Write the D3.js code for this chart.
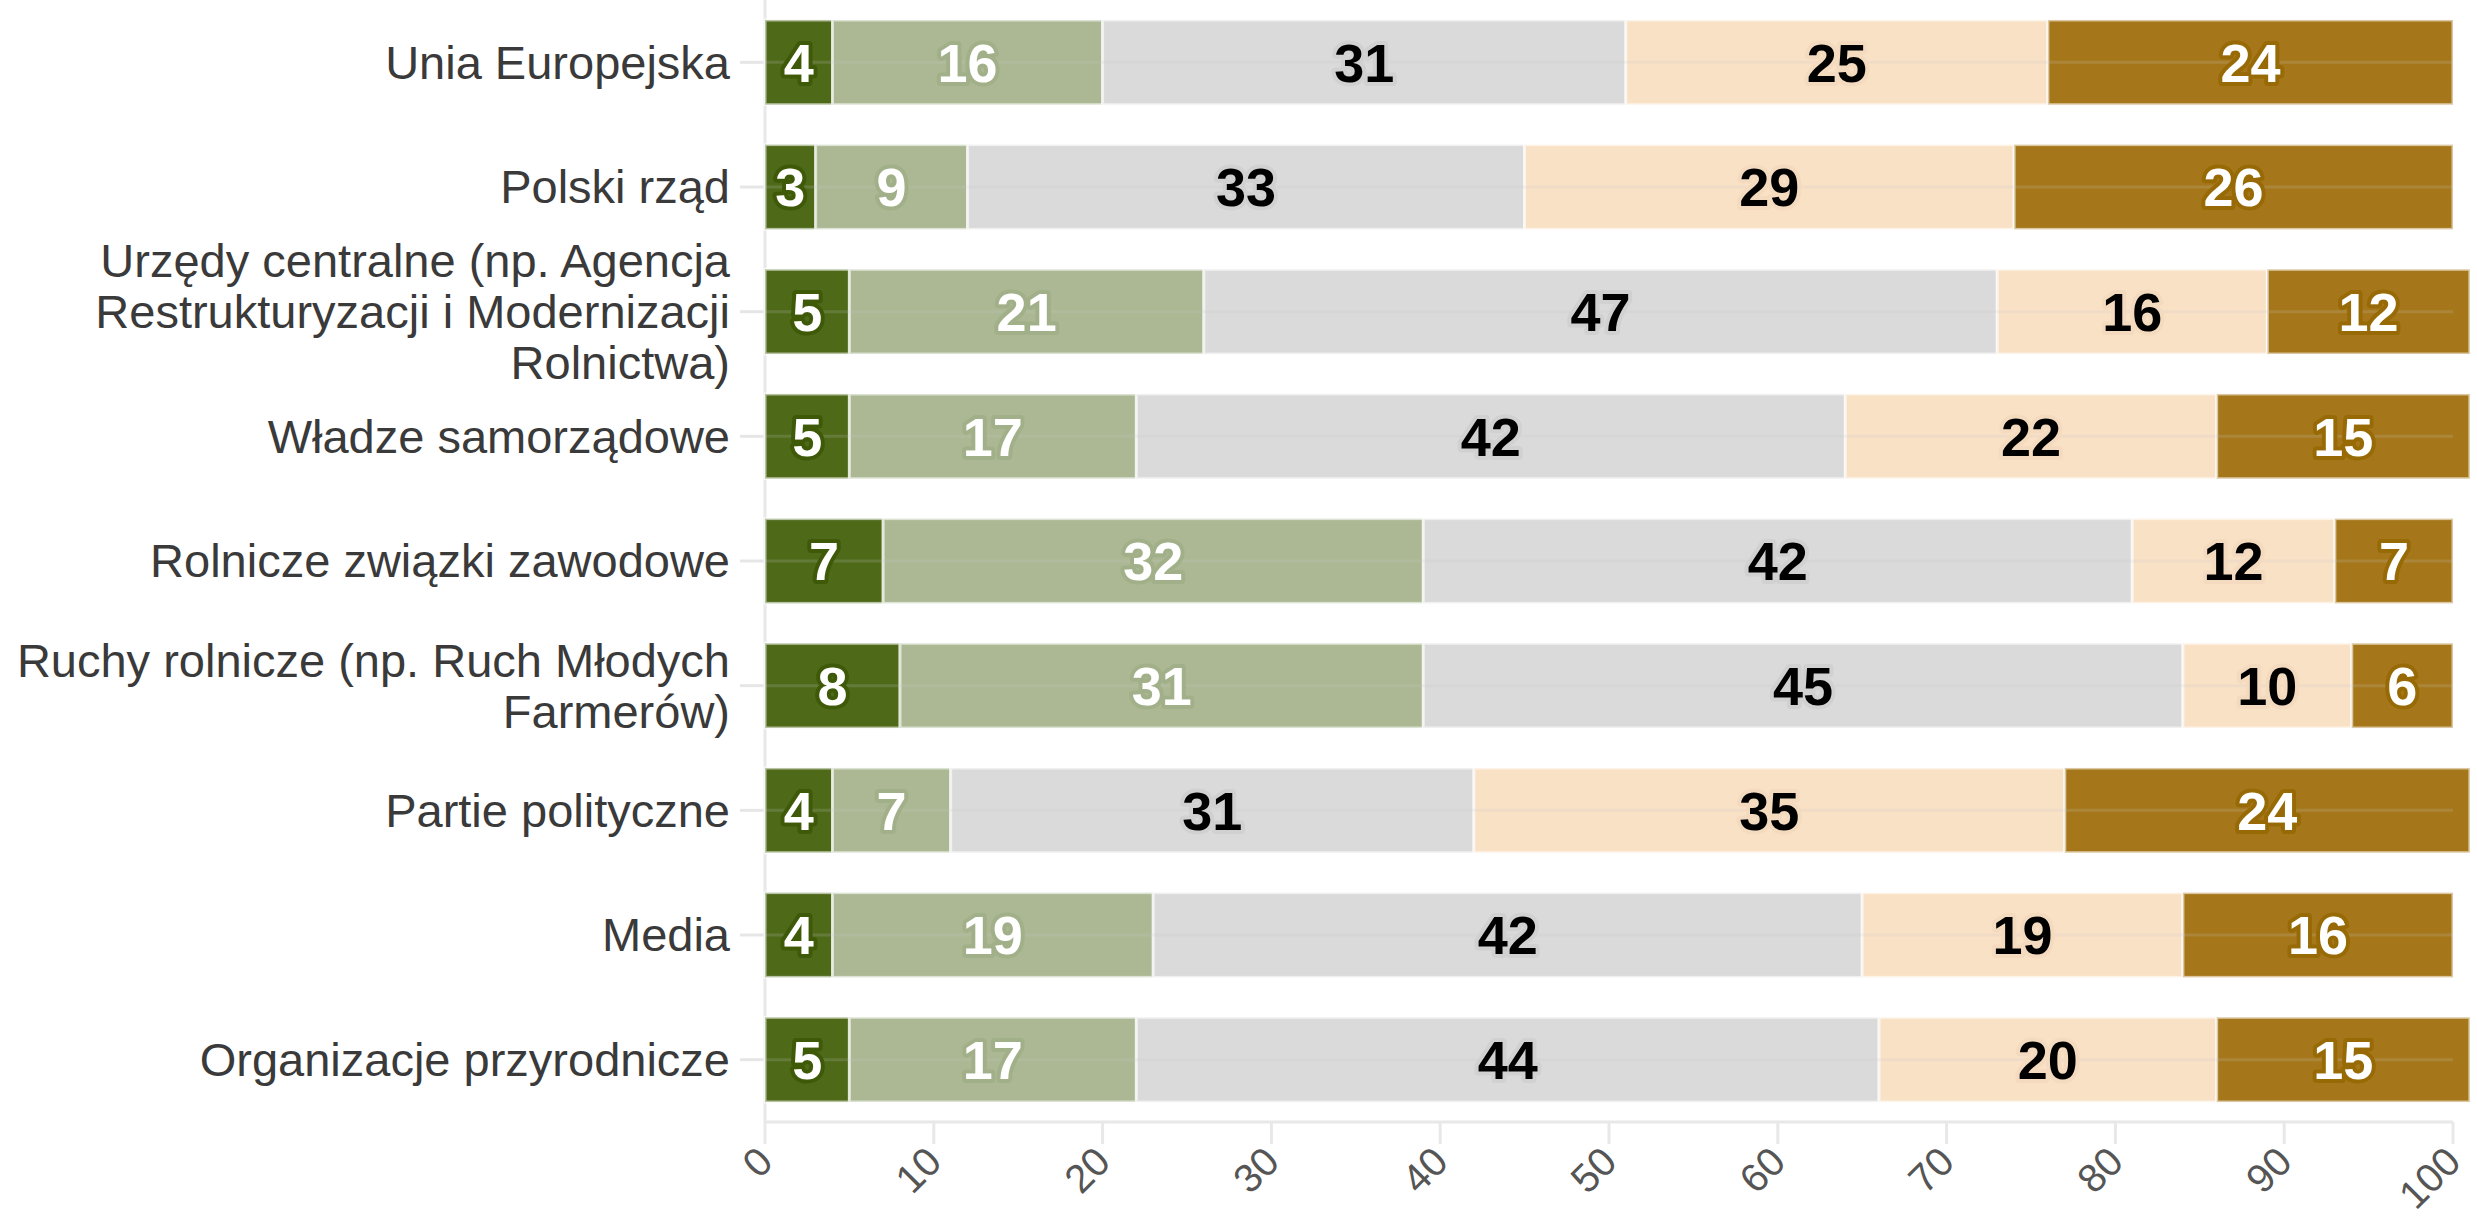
<!DOCTYPE html>
<html>
<head>
<meta charset="utf-8">
<script src="https://cdn.jsdelivr.net/npm/d3@7"></script>
<style>
  html, body { margin: 0; padding: 0; background: #ffffff; }
  svg { display: block; }
</style>
</head>
<body>
<svg id="chart" width="2477" height="1222"></svg>
<script>
// Categories (multi-line labels split with "\n")
const categories = [
  "Unia Europejska",
  "Polski rząd",
  "Urzędy centralne (np. Agencja\nRestrukturyzacji i Modernizacji\nRolnictwa)",
  "Władze samorządowe",
  "Rolnicze związki zawodowe",
  "Ruchy rolnicze (np. Ruch Młodych\nFarmerów)",
  "Partie polityczne",
  "Media",
  "Organizacje przyrodnicze"
];

// Answer shares (%) per category, from the first to the last answer level
const level1 = [4, 3, 5, 5, 7, 8, 4, 4, 5];
const level2 = [16, 9, 21, 17, 32, 31, 7, 19, 17];
const level3 = [31, 33, 47, 42, 42, 45, 31, 42, 44];
const level4 = [25, 29, 16, 22, 12, 10, 35, 19, 20];
const level5 = [24, 26, 12, 15, 7, 6, 24, 16, 15];

const xTickValues = [0, 10, 20, 30, 40, 50, 60, 70, 80, 90, 100];

// Styling
const levelKeys = ["level1", "level2", "level3", "level4", "level5"];
const fills = ["#4e6a19", "#abb893", "#dadada", "#f9e1c6", "#a5771a"];
const halos = ["#3e5908", "#a2b089", "#d1d1d1", "#f4dbbf", "#986a06"];
const textColors = ["#ffffff", "#ffffff", "#000000", "#000000", "#ffffff"];

const rows = categories.map((c, i) => ({
  category: c,
  level1: level1[i], level2: level2[i], level3: level3[i],
  level4: level4[i], level5: level5[i]
}));

const svg = d3.select("#chart");
const plot = { left: 765, right: 2453, top: 0, bottom: 1122 };

const x = d3.scaleLinear().domain([0, 100]).range([plot.left, plot.right]);
const y = d3.scaleBand()
  .domain(categories)
  .range([plot.top, plot.bottom])
  .paddingInner(0.32)
  .paddingOuter(0.16);

const stacked = d3.stack().keys(levelKeys)(rows);

// Vertical baseline at zero
svg.append("line")
  .attr("x1", x(0)).attr("x2", x(0))
  .attr("y1", plot.top).attr("y2", plot.bottom)
  .attr("stroke", "#e8e8e8").attr("stroke-width", 3);

// Row guide lines (extend left as category ticks)
svg.append("g").selectAll("line")
  .data(categories)
  .join("line")
  .attr("x1", x(0) - 25).attr("x2", x(0))
  .attr("y1", d => y(d) + y.bandwidth() / 2)
  .attr("y2", d => y(d) + y.bandwidth() / 2)
  .attr("stroke", "#e6e6e6").attr("stroke-width", 3);

// Stacked bars
const layers = svg.append("g").selectAll("g")
  .data(stacked)
  .join("g")
  .attr("fill", (d, i) => fills[i]);

layers.selectAll("rect")
  .data(d => d.map(v => ({ v, cat: v.data.category })))
  .join("rect")
  .attr("x", d => x(d.v[0]))
  .attr("width", d => x(d.v[1]) - x(d.v[0]))
  .attr("y", d => y(d.cat))
  .attr("height", y.bandwidth())
  .attr("stroke", "rgba(255,255,255,0.6)")
  .attr("stroke-width", 3);

// Faint row guide lines running through the bars
svg.append("g").selectAll("line")
  .data(categories)
  .join("line")
  .attr("x1", x(0)).attr("x2", x(100))
  .attr("y1", d => y(d) + y.bandwidth() / 2)
  .attr("y2", d => y(d) + y.bandwidth() / 2)
  .attr("stroke", "#c8c8c8").attr("stroke-opacity", 0.18).attr("stroke-width", 3);

// Value labels inside segments
stacked.forEach((layer, li) => {
  svg.append("g").selectAll("text")
    .data(layer)
    .join("text")
    .attr("x", d => (x(d[0]) + x(d[1])) / 2)
    .attr("y", d => y(d.data.category) + y.bandwidth() / 2)
    .attr("dy", "0.36em")
    .attr("text-anchor", "middle")
    .attr("font-family", "'Liberation Sans', Arial, sans-serif")
    .attr("font-weight", "bold")
    .attr("font-size", 54)
    .attr("fill", textColors[li])
    .attr("stroke", halos[li])
    .attr("stroke-width", 8)
    .attr("stroke-linejoin", "round")
    .attr("paint-order", "stroke")
    .text(d => d.data[levelKeys[li]]);
});

// Category labels
const lineH = 51;
const catLabels = svg.append("g").selectAll("text")
  .data(categories)
  .join("text")
  .attr("text-anchor", "end")
  .attr("font-family", "'Liberation Sans', Arial, sans-serif")
  .attr("font-size", 47)
  .attr("fill", "#3a3a3a");

catLabels.each(function(d) {
  const lines = d.split("\n");
  const cy = y(d) + y.bandwidth() / 2;
  const first = cy - (lines.length - 1) * lineH / 2;
  d3.select(this).selectAll("tspan")
    .data(lines)
    .join("tspan")
    .attr("x", x(0) - 35)
    .attr("y", (l, i) => first + i * lineH)
    .attr("dy", "0.35em")
    .text(l => l);
});

// Bottom axis
const axis = svg.append("g").attr("transform", `translate(0,${plot.bottom})`);
axis.append("line")
  .attr("x1", x(0)).attr("x2", x(100))
  .attr("stroke", "#e8e8e8").attr("stroke-width", 3);
axis.selectAll(".tick")
  .data(xTickValues)
  .join("line")
  .attr("x1", d => x(d)).attr("x2", d => x(d))
  .attr("y1", 0).attr("y2", 22)
  .attr("stroke", "#e8e8e8").attr("stroke-width", 3);
axis.selectAll("text")
  .data(xTickValues)
  .join("text")
  .attr("transform", d => `translate(${x(d) + 10},${42}) rotate(-45)`)
  .attr("text-anchor", "end")
  .attr("font-family", "'Liberation Sans', Arial, sans-serif")
  .attr("font-size", 40)
  .attr("fill", "#555555")
  .text(d => d);
</script>
</body>
</html>
